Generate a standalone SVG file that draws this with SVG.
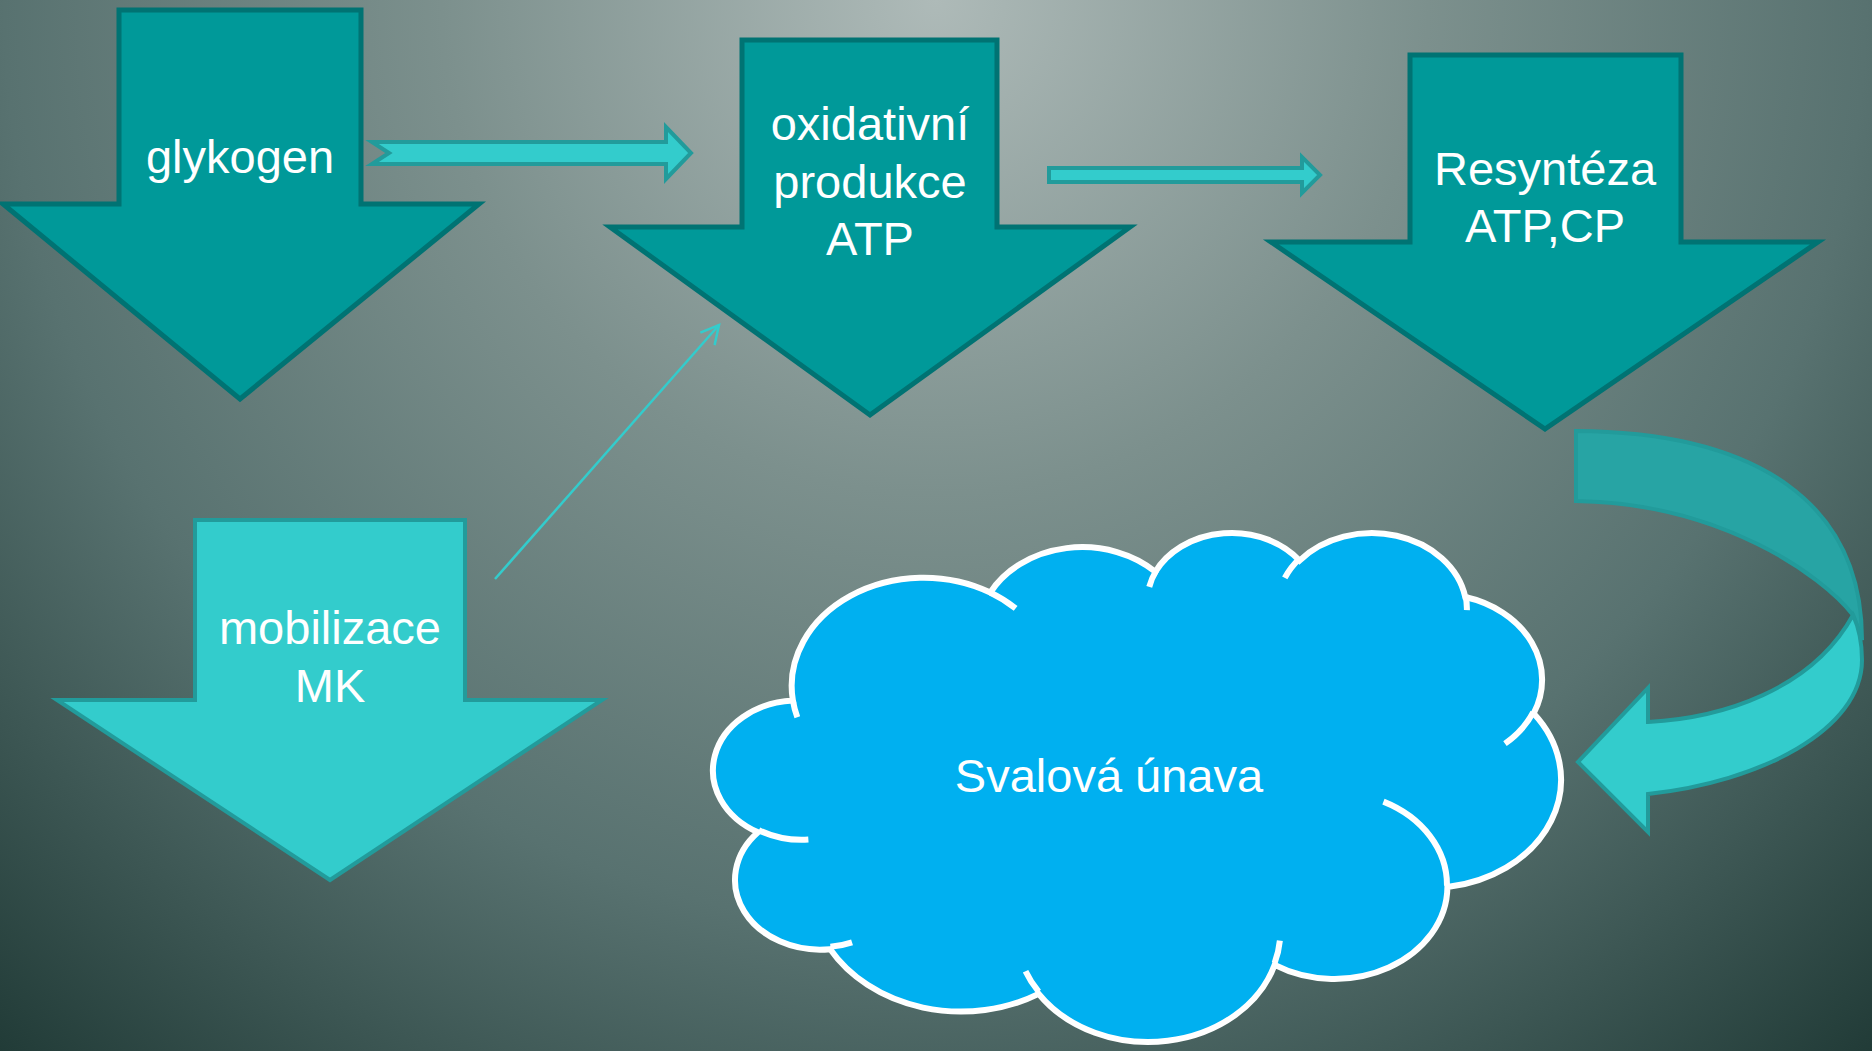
<svg xmlns="http://www.w3.org/2000/svg" width="1872" height="1051" viewBox="0 0 1872 1051">
<defs>
<radialGradient id="bg" gradientUnits="userSpaceOnUse" cx="935" cy="0" r="1410">
<stop offset="0" stop-color="#AEBAB8"/>
<stop offset="0.35" stop-color="#7C908D"/>
<stop offset="0.66" stop-color="#587270"/>
<stop offset="1" stop-color="#213B37"/>
</radialGradient>
<marker id="open" markerUnits="userSpaceOnUse" markerWidth="30" markerHeight="30" viewBox="-22 -15 30 30" refX="0" refY="0" orient="auto">
<path d="M-18,-9 L0,0 L-18,10" fill="none" stroke="#33CCCC" stroke-width="2.5"/>
</marker>
</defs>
<style>
.main{fill:#009999;stroke:#007373;stroke-width:5;stroke-linejoin:miter}
.light{fill:#33CCCC;stroke:#229B9B;stroke-width:4;stroke-linejoin:miter}
.back{fill:#27A4A4;stroke:#229B9B;stroke-width:4}
.lbl{font-family:"Liberation Sans",Arial,sans-serif;font-size:47px;fill:#FFFFFF;text-anchor:middle}
.cloud{fill:#00B0F0;stroke:#FFFFFF;stroke-width:6}
.inner{fill:none;stroke:#FFFFFF;stroke-width:6}
</style>
<rect x="0" y="0" width="1872" height="1051" fill="url(#bg)"/>

<g id="connectors">
<path class="light" d="M372,142 L666,142 L666,127 L691,153 L666,179 L666,164 L372,164 L389,153 Z"/>
<path class="light" d="M1049,168 L1302,168 L1302,157 L1320,175 L1302,193 L1302,182 L1049,182 Z"/>
<line x1="495" y1="579" x2="719" y2="325" stroke="#33CCCC" stroke-width="2.5" marker-end="url(#open)"/>
<g id="curved-arrow">
<path class="back" d="M1576,431 C1760,432 1862,505 1862,640 L1853,615 C1822,575 1720,503 1576,501 Z"/>
<path class="light" d="M1853,615 C1859,628 1862,645 1862,660 C1862,730 1760,782 1648,794 L1648,832 L1578,762 L1648,688 L1648,722 C1722,718 1812,690 1853,615 Z"/>
</g>
</g>

<g id="node-glykogen">
<polygon class="main" points="119,10 361,10 361,204 479,204 240,399 3,204 119,204"/>
<text class="lbl" x="240" y="173">glykogen</text>
</g>

<g id="node-oxidativni">
<polygon class="main" points="742,40 997,40 997,227 1130,227 870,415 610,227 742,227"/>
<text class="lbl" x="870" y="140">oxidativní</text>
<text class="lbl" x="870" y="198">produkce</text>
<text class="lbl" x="870" y="255">ATP</text>
</g>

<g id="node-resynteza">
<polygon class="main" points="1410,55 1681,55 1681,242 1818,242 1545,429 1271,242 1410,242"/>
<text class="lbl" x="1545" y="185">Resyntéza</text>
<text class="lbl" x="1545" y="242">ATP,CP</text>
</g>

<g id="node-mobilizace">
<polygon class="light" points="195,520 465,520 465,700 602,700 330,880 57,700 195,700"/>
<text class="lbl" x="330" y="644">mobilizace</text>
<text class="lbl" x="330" y="702">MK</text>
</g>

<g id="node-unava">
<g transform="translate(716.7,531.3) scale(0.019536,0.011778)">
<path class="cloud" vector-effect="non-scaling-stroke" d="M3900,14370 A6753,9190 0 0 1 14005,5202 A5333,7267 0 0 1 22456,3435 A4365,5945 0 0 1 29834,2484 A4857,6595 0 0 1 38318,5580 A5333,7273 0 0 1 41819,15464 A6775,9220 0 0 1 37404,30206 A5785,7867 0 0 1 28555,36816 A6752,9215 0 0 1 16481,39270 A7720,10543 0 0 1 5806,35477 A4360,5918 0 0 1 2114,25555 A4345,5945 0 0 1 3900,14370 Z"/>
<path class="inner" vector-effect="non-scaling-stroke" d="M4693,26177 A4345,5945 0 0 1 2160,25380 M6928,34899 A4360,5918 0 0 1 5820,35281 M16478,39090 A6752,9215 0 0 1 15809,37347 M28827,34751 A6752,9215 0 0 1 28560,36660 M34129,22954 A5785,7867 0 0 1 37381,30090 M41798,15354 A5333,7273 0 0 1 40350,18030 M38324,5426 A4857,6595 0 0 1 38401,6690 M29078,3952 A4857,6595 0 0 1 29821,2338 M22141,4720 A4365,5945 0 0 1 22500,3331 M14000,5192 A6753,9190 0 0 1 15301,6542 M4127,15789 A6753,9190 0 0 1 3900,14370"/>
</g>
<text class="lbl" x="1109" y="792">Svalová únava</text>
</g>
</svg>
